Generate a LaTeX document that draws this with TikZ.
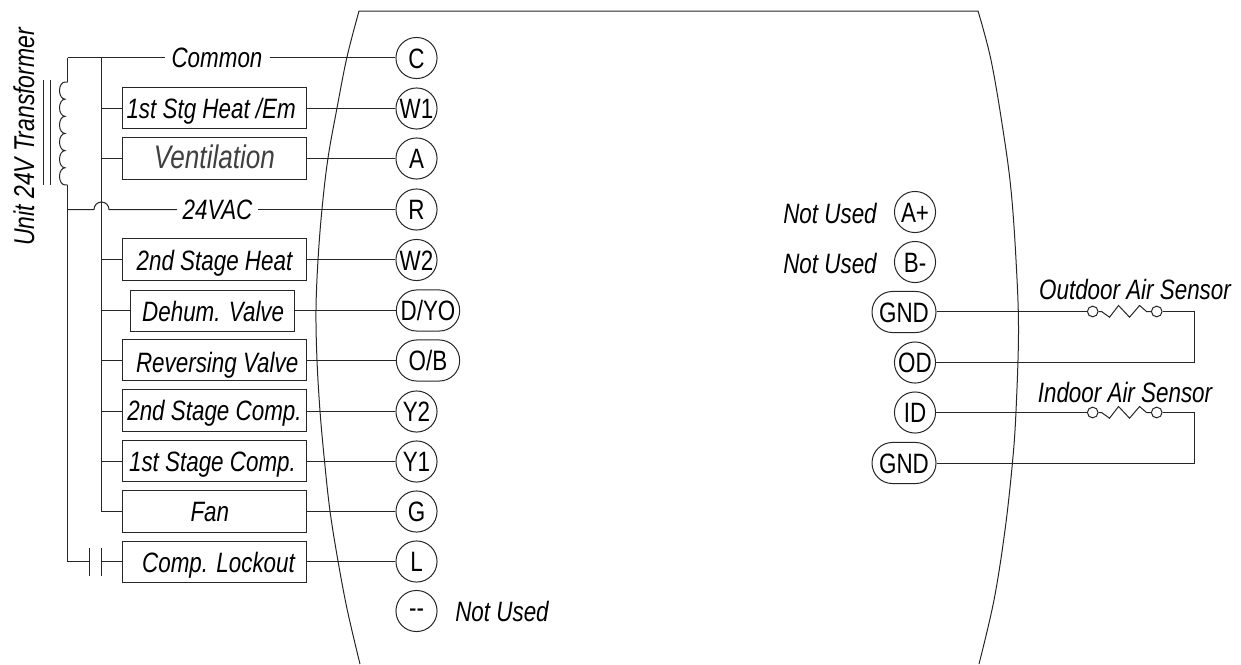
\documentclass[tikz,border=0pt]{standalone}
\usepackage{fontspec}
\setmainfont[FakeStretch=0.8]{Liberation Sans}
\newcommand\tx[3]{\raisebox{#2}{\makebox[0pt]{\hspace*{#1}#3}}}
\begin{document}
\begin{tikzpicture}[x=0.75pt,y=-0.75pt,line width=0.75pt,
  wire/.style={draw=black!85},
  term/.style={draw=black!85,rounded corners=15.3pt,minimum height=30.8pt,minimum width=30.8pt,inner sep=0pt,text height=15pt,text depth=0pt,font=\fontsize{21}{21}\selectfont,text=black},
  load/.style={draw=black!85,minimum height=31pt,inner sep=0pt,text height=15pt,text depth=0pt,font=\fontsize{21}{21}\selectfont\itshape,text=black},
  lbl/.style={inner sep=0pt,font=\fontsize{21}{21}\selectfont\itshape,text=black},
  contact/.style={circle,draw=black!85,minimum size=8pt,inner sep=0pt}]
\useasboundingbox (0,0) rectangle (1241,664);
% housing
\draw[wire] plot[smooth,tension=0.6] coordinates {(360,664) (347.5,611) (338,561) (330,511) (324.5,461) (320,411) (317,360) (316,310) (318,260) (322,209) (328,158) (337,108) (347,57) (359,11)} -- (978,11)
  plot[smooth,tension=0.6] coordinates {(978,11) (991,60) (1003,130) (1011,190) (1016,260) (1018.5,330) (1016,411) (1012.5,462) (1005,530) (994,600) (979,664)};
% terminals
\node[term] (C) at (416.5,58) {C};
\node[term] (W1) at (416.5,108.5) {W1};
\node[term] (A) at (416.5,158.5) {A};
\node[term] (R) at (416.5,209.5) {R};
\node[term] (W2) at (416.5,260) {W2};
\node[term,minimum width=47.5pt] (DYO) at (428,310.5) {D/YO};
\node[term,minimum width=47.5pt] (OB) at (428,360.5) {O/B};
\node[term] (Y2) at (416.5,411.5) {Y2};
\node[term] (Y1) at (416.5,461.5) {Y1};
\node[term] (G) at (416.5,511.5) {G};
\node[term] (L) at (416.5,561.5) {L};
\node[term,text height=10pt] (NC) at (416.5,611) {{-}{-}};
\node[term] (Ap) at (915,212) {A+};
\node[term] (Bm) at (915,262) {B-};
\node[term,minimum width=48pt] (GNDa) at (904,312) {GND};
\node[term] (OD) at (915,362.5) {OD};
\node[term] (ID) at (915,412.5) {ID};
\node[term,minimum width=48pt] (GNDb) at (904,463) {GND};
% loads
\node[load,minimum width=138pt] (b1) at (214.5,108) {\tx{-5pt}{-0.6pt}{1st Stg Heat /Em}};
\node[load,minimum width=138pt,text height=17.5pt,font=\fontsize{24.5}{25}\selectfont\itshape,text=black!75] (b2) at (214.5,158.5) {\tx{0pt}{1pt}{Ventilation}};
\node[load,minimum width=138pt] (b3) at (214.5,259.5) {\tx{0pt}{-0.6pt}{2nd Stage Heat}};
\node[load,minimum width=122.5pt] (b4) at (212.5,311) {\tx{1pt}{0pt}{Dehum. Valve}};
\node[load,minimum width=138pt] (b5) at (214.5,360) {\tx{4pt}{-1.5pt}{Reversing Valve}};
\node[load,minimum width=138pt] (b6) at (214.5,410.5) {\tx{0pt}{0pt}{2nd Stage Comp.}};
\node[load,minimum width=138pt] (b7) at (214.5,461) {\tx{-3pt}{0pt}{1st Stage Comp.}};
\node[load,minimum width=138pt] (b8) at (214.5,511.5) {\tx{-7pt}{0pt}{Fan}};
\node[load,minimum width=138pt] (b9) at (214.5,562) {\tx{6pt}{0pt}{Comp. Lockout}};
% inline labels
\node[lbl,minimum width=78pt,minimum height=14pt] (common) at (217,57.5) {Common};
\node[lbl,minimum width=60pt,minimum height=14pt] (vac) at (217.5,209.5) {24VAC};
% free labels
\node[lbl] (nu1) at (502,611) {Not Used};
\node[lbl] (nu2) at (830,213) {Not Used};
\node[lbl] (nu3) at (830,263) {Not Used};
\node[lbl] (oas) at (1135,289) {Outdoor Air Sensor};
\node[lbl] (ias) at (1125,392) {Indoor Air Sensor};
\node[lbl,rotate=90,font=\fontsize{21.5}{22}\selectfont\itshape] (xf) at (24,137) {Unit 24V Transformer};
% bus coordinates
\coordinate (tl) at (67.5,57.5);
\coordinate (tb) at (101.5,57.5);
\coordinate (ct) at (67.5,82);
\coordinate (cb) at (67.5,185);
\coordinate (bl) at (67.5,561.5);
\coordinate (pa) at (89.5,561.5);
\coordinate (pb) at (101.5,561.5);
\coordinate (hl) at (94,209.5);
\coordinate (hr) at (109,209.5);
\coordinate (rl) at (67.5,209.5);
% transformer
\draw[wire] (tl) -- (ct);
\draw[wire] (ct) -- (65,82)
  \foreach \i in {0,...,5} { arc[start angle=270,end angle=90,x radius=5.5,y radius=8.58] }
  -- (cb);
\draw[wire] (43.5,80) -- (43.5,185) (50.5,80) -- (50.5,185);
% left rails
\draw[wire] (cb) -- (bl) -- (pa);
\draw[wire] (89.5,548) -- (89.5,576) (101.5,548) -- (101.5,576);
\draw[wire] (pb) -- (b9.west |- pb);
\draw[wire] (tb) -- (101.5,511.5) -- (b8.west |- 0,511.5);
\draw[wire] (tl) -- (common.west);
\draw[wire] (common.east) -- (C.west |- common.east);
\draw[wire] (rl) -- (hl) arc[start angle=180,end angle=360,radius=7.5] -- (hr) -- (vac.west);
\draw[wire] (vac.east) -- (R.west);
% load links
\foreach \b/\t/\y in {b1/W1/108.5,b2/A/158.5,b3/W2/259.5,b4/DYO/310.5,b5/OB/360.5,b6/Y2/411.5,b7/Y1/461.5,b8/G/511.5,b9/L/561.5}{
  \draw[wire] (\b.east |- 0,\y) -- (\t.west |- 0,\y);
}
\foreach \b/\y in {b1/108.5,b2/158.5,b3/259.5,b4/310.5,b5/360.5,b6/411.5,b7/461.5}{
  \draw[wire] (101.5,\y) -- (\b.west |- 0,\y);
}
% sensors
\node[contact] (oa) at (1092.7,311.5) {};
\node[contact] (ob) at (1156.7,311.5) {};
\node[contact] (ia) at (1092.7,412.5) {};
\node[contact] (ib) at (1156.7,412.5) {};
\coordinate (oc) at (1194,311.5);
\coordinate (od) at (1194,362.5);
\coordinate (ic) at (1194,412.5);
\coordinate (id) at (1194,463.5);
\draw[wire] (GNDa.east |- oa) -- (oa.west);
\draw[wire] (oa.east) -- ++(3,0) -- ++(8,5.7) -- ++(9,-11.7) -- ++(11,11.7) -- ++(10,-11.7) -- ++(7,6) -- (ob.west);
\draw[wire] (ob.east) -- (oc) -- (od) -- (OD.east |- od);
\draw[wire] (ID.east) -- (ia.west);
\draw[wire] (ia.east) -- ++(3,0) -- ++(8,5.7) -- ++(9,-11.7) -- ++(11,11.7) -- ++(10,-11.7) -- ++(7,6) -- (ib.west);
\draw[wire] (ib.east) -- (ic) -- (id) -- (GNDb.east |- id);
\end{tikzpicture}
\end{document}
